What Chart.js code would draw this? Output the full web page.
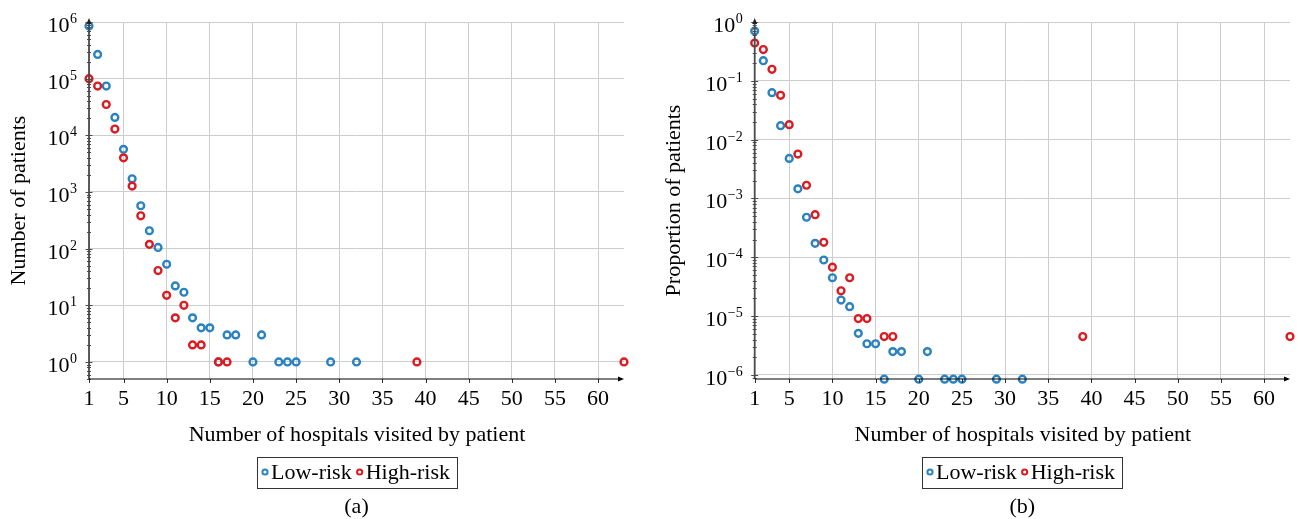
<!DOCTYPE html>
<html lang="en">
<head>
<meta charset="UTF-8">
<title>Hospitals visited per patient</title>
<script src="https://cdn.jsdelivr.net/npm/chart.js"></script>
<style>
  body { margin: 0; background: #fff; }
  canvas { position: absolute; top: 0; }
  #chartA { left: 0; }
  #chartB { left: 649px; }
</style>
</head>
<body>
<canvas id="chartA" width="649" height="519"></canvas>
<canvas id="chartB" width="649" height="519"></canvas>
<script>
// (a) number of patients per number of hospitals visited
const lowX  = [1, 2, 3, 4, 5, 6, 7, 8, 9, 10, 11, 12, 13, 14, 15, 16, 17, 18, 20, 21, 23, 24, 25, 29, 32];
const lowCount = [850000, 268000, 74000, 20700, 5650, 1710, 571, 207, 105, 53, 22, 17, 6, 4, 4, 1, 3, 3, 1, 3, 1, 1, 1, 1, 1];
const highX = [1, 2, 3, 4, 5, 6, 7, 8, 9, 10, 11, 12, 13, 14, 16, 17, 39, 63];
const highCount = [100000, 74000, 35000, 12900, 4000, 1270, 380, 119, 41, 15, 6, 10, 2, 2, 1, 1, 1, 1];

// (b) proportion of patients
const lowProp = [0.70, 0.22, 0.063, 0.0173, 0.0048, 0.00146, 4.8e-4, 1.73e-4, 9.0e-5, 4.5e-5, 1.88e-5, 1.45e-5,
                 5.1e-6, 3.4e-6, 3.4e-6, 8.5e-7, 2.5e-6, 2.5e-6, 8.5e-7, 2.5e-6, 8.5e-7, 8.5e-7, 8.5e-7, 8.5e-7, 8.5e-7];
const highProp = [0.44, 0.34, 0.157, 0.0568, 0.018, 0.0057, 0.00168, 5.3e-4, 1.8e-4, 6.8e-5, 2.7e-5, 4.5e-5,
                  9.1e-6, 9.1e-6, 4.5e-6, 4.5e-6, 4.5e-6, 4.5e-6];

// axis ticks
const xTicks = [1, 5, 10, 15, 20, 25, 30, 35, 40, 45, 50, 55, 60];
const countDecades = [1, 10, 100, 1e3, 1e4, 1e5, 1e6];
const propDecades = [1e-6, 1e-5, 1e-4, 1e-3, 1e-2, 1e-1, 1];

const FONT = 'Liberation Serif';
const BLUE = '#2a82c0';
const RED = '#da1c22';
const GRID = '#cdcdcd';

const pairs = (xs, ys) => xs.map((x, i) => ({ x, y: ys[i] }));

// decade ticks plus the 2..9 minor ticks between them
function logTicks(decades) {
  return scale => {
    const ticks = [];
    [decades[0] / 10, ...decades].forEach(d => {
      for (let m = 1; m <= 9; m++) {
        const v = m * d;
        if (v >= scale.min * 0.9999 && v <= scale.max * 1.0001) ticks.push({ value: v, major: m === 1 });
      }
    });
    scale.ticks = ticks;
  };
}

// axis lines, arrows, 10^n labels, x title, boxed legend and caption
const figurePlugin = {
  id: 'figure',
  afterDraw(chart, args, opts) {
    const ctx = chart.ctx;
    const area = chart.chartArea;
    const xs = chart.scales.x, ys = chart.scales.y;
    const mid = (area.left + area.right) / 2;
    ctx.save();

    // y tick marks across the axis
    ctx.strokeStyle = '#4a4a4a';
    ctx.lineWidth = 1;
    ys.ticks.forEach(t => {
      const py = Math.round(ys.getPixelForValue(t.value)) + 0.5;
      const h = t.major ? 3.5 : 2;
      ctx.beginPath();
      ctx.moveTo(area.left - h, py);
      ctx.lineTo(area.left + h, py);
      ctx.stroke();
    });

    // x tick marks below the axis
    ctx.strokeStyle = '#333';
    xs.ticks.forEach(t => {
      const px = Math.round(xs.getPixelForValue(t.value)) + 0.5;
      ctx.beginPath();
      ctx.moveTo(px, area.bottom);
      ctx.lineTo(px, area.bottom + 4);
      ctx.stroke();
    });

    // y axis with arrow head
    ctx.strokeStyle = '#4a4a4a';
    ctx.fillStyle = '#222';
    ctx.lineWidth = 1.8;
    ctx.beginPath();
    ctx.moveTo(area.left, area.bottom);
    ctx.lineTo(area.left, area.top - 1);
    ctx.stroke();
    ctx.beginPath();
    ctx.moveTo(area.left, area.top - 4);
    ctx.lineTo(area.left - 2.5, area.top + 2);
    ctx.lineTo(area.left + 2.5, area.top + 2);
    ctx.closePath();
    ctx.fill();

    // x axis with arrow head
    ctx.strokeStyle = '#000';
    ctx.fillStyle = '#000';
    ctx.lineWidth = 1.2;
    ctx.beginPath();
    ctx.moveTo(area.left, area.bottom);
    ctx.lineTo(area.right - 2, area.bottom);
    ctx.stroke();
    ctx.beginPath();
    ctx.moveTo(area.right, area.bottom);
    ctx.lineTo(area.right - 6, area.bottom - 2.5);
    ctx.lineTo(area.right - 6, area.bottom + 2.5);
    ctx.closePath();
    ctx.fill();

    // y labels as 10 with a raised exponent
    ctx.fillStyle = '#000';
    ctx.textBaseline = 'alphabetic';
    ctx.textAlign = 'right';
    ys.ticks.filter(t => t.major).forEach(t => {
      const py = ys.getPixelForValue(t.value);
      const e = Math.round(Math.log10(t.value));
      const sup = e < 0 ? '\u2212' + (-e) : String(e);
      const right = area.left - 12;
      ctx.font = `14px ${FONT}`;
      ctx.fillText(sup, right, py + 1);
      const w = ctx.measureText(sup).width;
      ctx.font = `22px ${FONT}`;
      ctx.fillText('10', right - w - 0.5, py + 10);
    });

    // x axis title
    ctx.font = `22px ${FONT}`;
    ctx.textAlign = 'center';
    ctx.fillText(opts.xTitle, mid + 0.5, 441);

    // legend in a box
    const items = chart.data.datasets.map(d => ({
      label: d.label, color: d.borderColor, w: ctx.measureText(d.label).width
    }));
    const boxW = Math.round(4 + items.reduce((s, it) => s + 14 + it.w, 0) + 3);
    const boxL = Math.round(mid - boxW / 2);
    ctx.strokeStyle = '#333';
    ctx.lineWidth = 1;
    ctx.strokeRect(boxL + 0.5, 457.5, boxW, 31);
    let cx = boxL + 4;
    ctx.textAlign = 'left';
    items.forEach(it => {
      ctx.beginPath();
      ctx.arc(cx + 4, 472, 2.6, 0, Math.PI * 2);
      ctx.lineWidth = 2;
      ctx.strokeStyle = it.color;
      ctx.stroke();
      ctx.fillStyle = '#000';
      ctx.fillText(it.label, cx + 10, 478.5);
      cx += 14 + it.w;
    });

    // sub-figure caption
    ctx.textAlign = 'center';
    ctx.fillText(opts.caption, mid, 513);
    ctx.restore();
  }
};

function makeChart(id, cfg) {
  return new Chart(document.getElementById(id), {
    type: 'scatter',
    data: {
      datasets: [
        { label: 'Low-risk', data: pairs(lowX, cfg.low), borderColor: BLUE, backgroundColor: 'rgba(0,0,0,0)',
          pointRadius: 3.4, borderWidth: 2.4, order: 1, clip: false },
        { label: 'High-risk', data: pairs(highX, cfg.high), borderColor: RED, backgroundColor: 'rgba(0,0,0,0)',
          pointRadius: 3.4, borderWidth: 2.4, order: 0, clip: false }
      ]
    },
    options: {
      responsive: false,
      animation: false,
      events: [],
      layout: { padding: { top: 22, right: cfg.padRight, left: 0, bottom: 0 } },
      plugins: {
        legend: { display: false },
        tooltip: { enabled: false },
        figure: { xTitle: 'Number of hospitals visited by patient', caption: cfg.caption }
      },
      scales: {
        x: {
          type: 'linear', min: 1, max: 63,
          afterBuildTicks: s => { s.ticks = xTicks.map(v => ({ value: v })); },
          afterFit: s => { s.height = 140; },
          grid: { color: GRID, lineWidth: 1, drawTicks: false },
          border: { display: false },
          ticks: { padding: 7, color: '#000', font: { family: FONT, size: 22 }, autoSkip: false, maxRotation: 0,
                   callback: v => String(v) }
        },
        y: {
          type: 'logarithmic', min: cfg.yMin, max: cfg.yMax,
          afterBuildTicks: logTicks(cfg.decades),
          afterFit: s => { s.width = cfg.axisLeft; },
          grid: {
            color: c => (c.tick && c.tick.major ? GRID : 'rgba(0,0,0,0)'),
            lineWidth: 1, drawTicks: false
          },
          border: { display: false },
          ticks: { display: false },
          title: { display: true, text: cfg.yTitle, color: '#000', font: { family: FONT, size: 22 },
                   padding: { top: cfg.titlePad, bottom: 0 } }
        }
      }
    },
    plugins: [figurePlugin]
  });
}

makeChart('chartA', {
  low: lowCount, high: highCount, decades: countDecades,
  yMin: 0.5, yMax: 1e6, axisLeft: 89, padRight: 25, titlePad: 6,
  yTitle: 'Number of patients', caption: '(a)'
});

makeChart('chartB', {
  low: lowProp, high: highProp, decades: propDecades,
  yMin: 8.55e-7, yMax: 1, axisLeft: 105.7, padRight: 8, titlePad: 12,
  yTitle: 'Proportion of patients', caption: '(b)'
});
</script>
</body>
</html>
